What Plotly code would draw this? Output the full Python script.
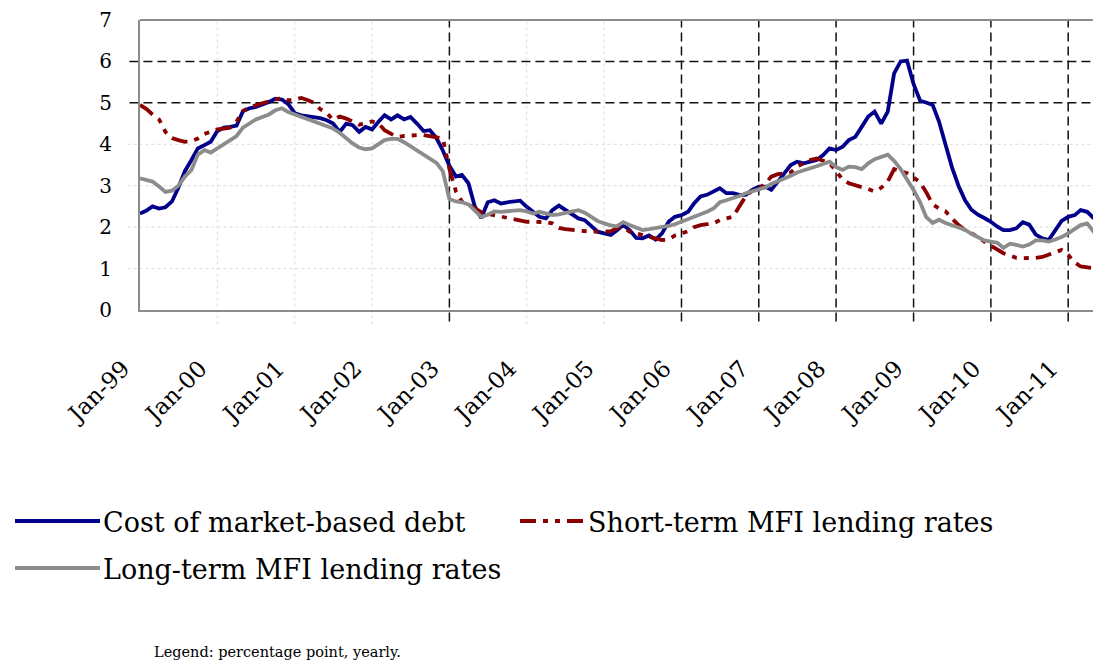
import pandas as pd
import plotly.graph_objects as go

# ---------------- data (monthly, Jan-1999 .. Jun-2011) ----------------
months = pd.date_range("1999-01-01", periods=150, freq="MS")

cost_market_debt = [
    2.33, 2.40, 2.50, 2.45, 2.48, 2.62, 2.95, 3.35, 3.62, 3.90, 3.98, 4.06,   # 1999
    4.32, 4.40, 4.42, 4.45, 4.80, 4.87, 4.90, 4.95, 5.02, 5.10, 5.08, 4.97,   # 2000
    4.75, 4.70, 4.68, 4.67, 4.63, 4.58, 4.50, 4.30, 4.50, 4.46, 4.30, 4.42,   # 2001
    4.36, 4.55, 4.70, 4.60, 4.70, 4.60, 4.66, 4.50, 4.32, 4.34, 4.15, 3.85,   # 2002
    3.48, 3.22, 3.26, 3.06, 2.50, 2.22, 2.60, 2.65, 2.57, 2.60, 2.63, 2.64,   # 2003
    2.49, 2.37, 2.25, 2.21, 2.41, 2.52, 2.42, 2.29, 2.21, 2.17, 2.02, 1.89,   # 2004
    1.85, 1.81, 1.92, 2.05, 1.93, 1.74, 1.73, 1.80, 1.70, 1.85, 2.13, 2.25,   # 2005
    2.29, 2.37, 2.57, 2.74, 2.78, 2.86, 2.94, 2.82, 2.82, 2.78, 2.78, 2.90,   # 2006
    2.98, 2.98, 2.90, 3.10, 3.30, 3.50, 3.58, 3.54, 3.58, 3.62, 3.74, 3.90,   # 2007
    3.86, 3.94, 4.10, 4.18, 4.42, 4.67, 4.79, 4.50, 4.79, 5.71, 6.00, 6.02,   # 2008
    5.45, 5.05, 5.01, 4.95, 4.55, 4.00, 3.45, 3.00, 2.65, 2.42, 2.30, 2.22,   # 2009
    2.13, 2.01, 1.93, 1.93, 1.97, 2.12, 2.06, 1.82, 1.73, 1.69, 1.93, 2.15,   # 2010
    2.25, 2.29, 2.41, 2.37, 2.22, 2.17,                                       # 2011
]

short_term_mfi = [
    4.95, 4.85, 4.72, 4.60, 4.30, 4.15, 4.10, 4.06, 4.08, 4.14, 4.25, 4.30,
    4.36, 4.38, 4.40, 4.55, 4.80, 4.90, 4.95, 5.00, 5.04, 5.08, 5.12, 5.06,
    5.08, 5.12, 5.07, 5.00, 4.85, 4.75, 4.59, 4.67, 4.62, 4.55, 4.47, 4.52,
    4.55, 4.50, 4.34, 4.25, 4.18, 4.20, 4.22, 4.22, 4.22, 4.20, 4.18, 4.14,
    3.40, 2.86, 2.62, 2.55, 2.45, 2.36, 2.32, 2.29, 2.26, 2.21, 2.18, 2.15,
    2.13, 2.13, 2.13, 2.12, 2.09, 1.98, 1.95, 1.93, 1.91, 1.89, 1.89, 1.89,
    1.89, 1.90, 1.98, 2.00, 1.89, 1.85, 1.82, 1.77, 1.72, 1.69, 1.70, 1.80,
    1.85, 1.90, 2.00, 2.05, 2.07, 2.09, 2.17, 2.20, 2.25, 2.50, 2.75, 2.88,
    2.94, 3.05, 3.22, 3.28, 3.30, 3.32, 3.46, 3.55, 3.62, 3.66, 3.60, 3.55,
    3.35, 3.15, 3.06, 3.02, 2.96, 2.92, 2.86, 2.95, 3.10, 3.40, 3.35, 3.30,
    3.20, 3.08, 2.85, 2.55, 2.45, 2.38, 2.21, 2.05, 1.93, 1.85, 1.77, 1.65,
    1.55, 1.45, 1.37, 1.32, 1.26, 1.25, 1.25, 1.26, 1.28, 1.33, 1.40, 1.45,
    1.33, 1.15, 1.05, 1.02, 1.01, 1.01,
]

long_term_mfi = [
    3.18, 3.15, 3.10, 2.98, 2.85, 2.88, 3.00, 3.22, 3.38, 3.75, 3.86, 3.80,
    3.90, 4.02, 4.10, 4.20, 4.40, 4.50, 4.60, 4.66, 4.72, 4.82, 4.87, 4.78,
    4.72, 4.67, 4.63, 4.56, 4.50, 4.45, 4.38, 4.28, 4.15, 4.02, 3.92, 3.88,
    3.90, 4.00, 4.10, 4.13, 4.13, 4.05, 3.95, 3.85, 3.76, 3.65, 3.55, 3.35,
    2.68, 2.62, 2.60, 2.55, 2.40, 2.25, 2.30, 2.38, 2.37, 2.38, 2.40, 2.41,
    2.38, 2.33, 2.37, 2.34, 2.29, 2.31, 2.34, 2.38, 2.41, 2.35, 2.25, 2.15,
    2.09, 2.04, 2.02, 2.12, 2.05, 1.98, 1.93, 1.95, 1.97, 2.00, 2.03, 2.07,
    2.13, 2.18, 2.24, 2.30, 2.37, 2.45, 2.60, 2.65, 2.69, 2.75, 2.82, 2.86,
    2.90, 2.96, 3.04, 3.10, 3.18, 3.24, 3.32, 3.38, 3.42, 3.47, 3.52, 3.58,
    3.45, 3.38, 3.46, 3.45, 3.40, 3.54, 3.64, 3.70, 3.75, 3.60, 3.40, 3.15,
    2.90, 2.60, 2.25, 2.10, 2.18, 2.10, 2.05, 2.00, 1.94, 1.84, 1.75, 1.68,
    1.65, 1.62, 1.50, 1.60, 1.57, 1.53, 1.58, 1.68, 1.68, 1.65, 1.70, 1.76,
    1.85, 1.97, 2.05, 2.09, 1.88, 1.69,
]

series_names = ["Cost of market-based debt", "Short-term MFI lending rates",
                "Long-term MFI lending rates"]
tick_years = list(range(1999, 2012))
strong_v_years = [2003, 2006, 2007, 2008, 2009, 2010, 2011]
faint_v_years = [2000, 2001, 2002, 2004, 2005]
strong_h = [5, 6]
faint_h = [1, 2, 3, 4]
footer = "Legend: percentage point, yearly."

# ---------------- styles ----------------
FONT = "DejaVu Serif"
BLUE = "#00008b"
RED = "#8b0000"
GREY = "#8c8c8c"
RED_DASH = "16px,7px,5px,7px,5px,7px"

# page has an 8px body margin; figure is sized so the plot sits at page px 140..1101
BODY = 8

fig = go.Figure()
fig.add_trace(go.Scatter(x=months, y=cost_market_debt, mode="lines",
                         name=series_names[0], line=dict(color=BLUE, width=3.8)))
fig.add_trace(go.Scatter(x=months, y=short_term_mfi, mode="lines",
                         name=series_names[1],
                         line=dict(color=RED, width=3.8, dash=RED_DASH)))
fig.add_trace(go.Scatter(x=months, y=long_term_mfi, mode="lines",
                         name=series_names[2], line=dict(color=GREY, width=3.8)))

shapes = []
for yv in faint_h:
    shapes.append(dict(type="line", xref="x domain", yref="y", x0=-0.013, x1=1,
                       y0=yv, y1=yv, line=dict(color="#dcdcdc", width=1, dash="dot"),
                       layer="below"))
for yr in faint_v_years:
    d = f"{yr}-01-01"
    shapes.append(dict(type="line", xref="x", yref="y domain", x0=d, x1=d,
                       y0=-0.05, y1=1, line=dict(color="#dcdcdc", width=1, dash="dot"),
                       layer="below"))
for yv in strong_h:
    shapes.append(dict(type="line", xref="x domain", yref="y", x0=-0.011, x1=1,
                       y0=yv, y1=yv, line=dict(color="#111111", width=1.5, dash="9px,5px"),
                       layer="below"))
for yr in strong_v_years:
    d = f"{yr}-01-01"
    shapes.append(dict(type="line", xref="x", yref="y domain", x0=d, x1=d,
                       y0=-0.04, y1=1, line=dict(color="#111111", width=1.5, dash="9px,5px"),
                       layer="below"))
# top border of plot frame
shapes.append(dict(type="line", xref="x domain", yref="y domain", x0=0, x1=1,
                   y0=1, y1=1, line=dict(color="#8c8c8c", width=2)))

# ---------------- custom legend (paper coordinates) ----------------
W, H = 961.0, 290.0   # plot area size in px
L, T = 140.0, 20.0     # plot area offsets on the page


def px(xp):
    return (xp - L) / W


def py(yp):
    return (T + H - yp) / H


legend_items = [
    (series_names[0], BLUE, "solid", 15, 100, 521),
    (series_names[1], RED, RED_DASH, 520, 585, 521),
    (series_names[2], GREY, "solid", 15, 100, 568),
]
annotations = []
for name, col, dash, x0, x1, yy in legend_items:
    shapes.append(dict(type="line", xref="paper", yref="paper",
                       x0=px(x0), x1=px(x1), y0=py(yy), y1=py(yy),
                       line=dict(color=col, width=4, dash=dash)))
    annotations.append(dict(xref="paper", yref="paper", x=px(x1 + 1), y=py(yy + 1),
                            text=name, showarrow=False, xanchor="left", yanchor="middle",
                            font=dict(family=FONT, size=27, color="#000000")))

annotations.append(dict(xref="paper", yref="paper", x=px(152), y=py(652),
                        text=footer, showarrow=False, xanchor="left", yanchor="middle",
                        font=dict(family=FONT, size=14.5, color="#000000")))

fig.update_layout(
    width=1101 - BODY, height=666 - BODY,
    margin=dict(l=L - BODY, r=0, t=T - BODY, b=666 - BODY - (T - BODY) - H, pad=0),
    paper_bgcolor="white", plot_bgcolor="white",
    showlegend=False,
    font=dict(family=FONT, color="#000000"),
    shapes=shapes,
    annotations=annotations,
)
fig.update_xaxes(
    range=["1999-01-01", "2011-06-05"],
    tickvals=[f"{y}-01-01" for y in tick_years],
    ticktext=[f"Jan-{str(y)[2:]}" for y in tick_years],
    tickangle=-45,
    tickfont=dict(family=FONT, size=23, color="#000000"),
    showgrid=False, zeroline=False,
    showline=True, linecolor="#8c8c8c", linewidth=2,
    ticks="", ticklabelshift=-17, ticklabelstandoff=34,
)
fig.update_yaxes(
    range=[0, 7], tickvals=list(range(0, 8)),
    tickfont=dict(family=FONT, size=20, color="#000000"),
    showgrid=False, zeroline=False,
    showline=True, linecolor="#8c8c8c", linewidth=2,
    ticks="", ticklabelstandoff=22,
)

fig.write_html("out.html")
